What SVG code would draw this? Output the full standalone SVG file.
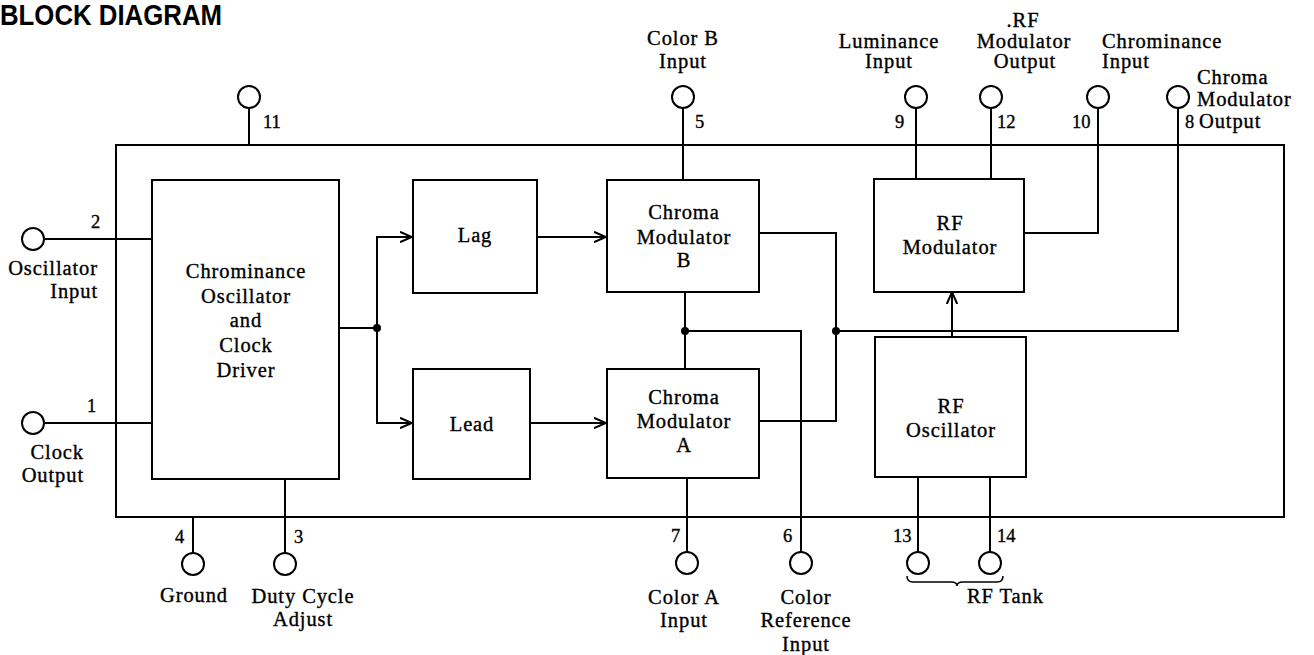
<svg xmlns="http://www.w3.org/2000/svg" width="1314" height="655" viewBox="0 0 1314 655">
<defs>
<style>
.ln{fill:none;stroke:#000;stroke-width:2}
.bx{fill:#fff;stroke:#000;stroke-width:2}
.pin{fill:#fff;stroke:#000;stroke-width:2}
.t{font-family:"Liberation Serif","Times New Roman",serif;font-size:20.5px;letter-spacing:0.9px;fill:#000;stroke:#000;stroke-width:0.35px}
.c{text-anchor:middle}
.e{text-anchor:end}
.n{font-family:"Liberation Serif","Times New Roman",serif;font-size:18.5px;fill:#000;stroke:#000;stroke-width:0.35px}
.dot{fill:#000}
</style>
<marker id="arr" viewBox="0 0 12 12" refX="12" refY="6" markerWidth="12" markerHeight="12" orient="auto" markerUnits="userSpaceOnUse">
<path d="M0,0.8 L12,6 L0,11.2" fill="none" stroke="#000" stroke-width="2"/>
</marker>
</defs>
<rect width="1314" height="655" fill="#fff"/>
<text x="0" y="25" font-family="Liberation Sans, Arial, sans-serif" font-weight="bold" font-size="29" textLength="222" lengthAdjust="spacingAndGlyphs">BLOCK DIAGRAM</text>

<g id="chip">
<rect class="ln" x="116" y="145" width="1168" height="372"/>
</g>

<g id="connectors">
<path class="ln" d="M249,108 V145"/>
<path class="ln" d="M44,239 H152"/>
<path class="ln" d="M44,423 H152"/>
<path class="ln" d="M193,517 V553"/>
<path class="ln" d="M285,479 V553"/>
<path class="ln" d="M683,108 V180"/>
<path class="ln" d="M687,478 V552"/>
<path class="ln" d="M918,477 V552"/>
<path class="ln" d="M990,477 V552"/>
<path class="ln" d="M916,108 V179"/>
<path class="ln" d="M991,108 V179"/>
<path class="ln" d="M1098,108 V233 H1024"/>
<path class="ln" d="M1178,108 V331 H836"/>
<path class="ln" d="M339,328 H377"/>
<path class="ln" d="M377,328 V237 H412" marker-end="url(#arr)"/>
<path class="ln" d="M377,328 V423 H412" marker-end="url(#arr)"/>
<path class="ln" d="M537,237 H606" marker-end="url(#arr)"/>
<path class="ln" d="M530,423 H606" marker-end="url(#arr)"/>
<path class="ln" d="M685,292 V369"/>
<path class="ln" d="M685,331 H801 V552"/>
<path class="ln" d="M759,233 H836 V421 H759"/>
<path class="ln" d="M952,337 V292" marker-end="url(#arr)"/>
<path d="M907,576 Q907,582 913,582 H951 Q957,582 957,586 Q957,582 963,582 H997 Q1003,582 1003,576" fill="none" stroke="#000" stroke-width="1.5"/>
<circle class="dot" cx="377" cy="328" r="4"/>
<circle class="dot" cx="685" cy="331" r="4"/>
<circle class="dot" cx="836" cy="331" r="4"/>
</g>

<g id="osc">
<rect class="bx" x="152" y="180" width="187" height="299"/>
<text class="t c" x="246" y="278">Chrominance</text>
<text class="t c" x="246" y="303">Oscillator</text>
<text class="t c" x="246" y="327">and</text>
<text class="t c" x="246" y="352">Clock</text>
<text class="t c" x="246" y="377">Driver</text>
</g>
<g id="lag">
<rect class="bx" x="413" y="180" width="124" height="113"/>
<text class="t c" x="475" y="242">Lag</text>
</g>
<g id="lead">
<rect class="bx" x="413" y="369" width="117" height="110"/>
<text class="t c" x="472" y="431">Lead</text>
</g>
<g id="modB">
<rect class="bx" x="607" y="180" width="152" height="112"/>
<text class="t c" x="684" y="219">Chroma</text>
<text class="t c" x="684" y="244">Modulator</text>
<text class="t c" x="684" y="267">B</text>
</g>
<g id="modA">
<rect class="bx" x="607" y="369" width="152" height="109"/>
<text class="t c" x="684" y="404">Chroma</text>
<text class="t c" x="684" y="428">Modulator</text>
<text class="t c" x="684" y="452">A</text>
</g>
<g id="rfmod">
<rect class="bx" x="874" y="179" width="150" height="113"/>
<text class="t c" x="950" y="230">RF</text>
<text class="t c" x="950" y="254">Modulator</text>
</g>
<g id="rfosc">
<rect class="bx" x="875" y="337" width="151" height="140"/>
<text class="t c" x="951" y="413">RF</text>
<text class="t c" x="951" y="437">Oscillator</text>
</g>

<g id="pin11"><circle class="pin" cx="249" cy="97" r="11"/><text class="n" x="263" y="128">11</text></g>
<g id="pin2"><circle class="pin" cx="33" cy="239" r="11"/><text class="n" x="91" y="228">2</text>
<text class="t e" x="98" y="275">Oscillator</text><text class="t e" x="98" y="298">Input</text></g>
<g id="pin1"><circle class="pin" cx="33" cy="423" r="11"/><text class="n" x="87" y="412">1</text>
<text class="t e" x="84" y="459">Clock</text><text class="t e" x="84" y="482">Output</text></g>
<g id="pin4"><circle class="pin" cx="193" cy="564" r="11"/><text class="n" x="175" y="543">4</text>
<text class="t c" x="194" y="602">Ground</text></g>
<g id="pin3"><circle class="pin" cx="285" cy="564" r="11"/><text class="n" x="294" y="543">3</text>
<text class="t c" x="303" y="603">Duty Cycle</text><text class="t c" x="303" y="626">Adjust</text></g>
<g id="pin7"><circle class="pin" cx="687" cy="563" r="11"/><text class="n" x="671" y="542">7</text>
<text class="t c" x="684" y="604">Color A</text><text class="t c" x="684" y="627">Input</text></g>
<g id="pin6"><circle class="pin" cx="801" cy="563" r="11"/><text class="n" x="783" y="542">6</text>
<text class="t c" x="806" y="604">Color</text><text class="t c" x="806" y="627">Reference</text><text class="t c" x="806" y="651">Input</text></g>
<g id="pin13"><circle class="pin" cx="918" cy="563" r="11"/><text class="n" x="893" y="542">13</text></g>
<g id="pin14"><circle class="pin" cx="990" cy="563" r="11"/><text class="n" x="997" y="542">14</text>
<text class="t" x="967" y="603">RF Tank</text></g>
<g id="pin5"><circle class="pin" cx="683" cy="97" r="11"/><text class="n" x="695" y="128">5</text>
<text class="t c" x="683" y="45">Color B</text><text class="t c" x="683" y="68">Input</text></g>
<g id="pin9"><circle class="pin" cx="916" cy="97" r="11"/><text class="n" x="895" y="128">9</text>
<text class="t c" x="889" y="48">Luminance</text><text class="t c" x="889" y="68">Input</text></g>
<g id="pin12"><circle class="pin" cx="991" cy="97" r="11"/><text class="n" x="997" y="128">12</text>
<text class="t c" x="1023" y="27">.RF</text><text class="t c" x="1024" y="48">Modulator</text><text class="t c" x="1025" y="68">Output</text></g>
<g id="pin10"><circle class="pin" cx="1098" cy="97" r="11"/><text class="n" x="1072" y="128">10</text>
<text class="t" x="1102" y="48">Chrominance</text><text class="t" x="1102" y="68">Input</text></g>
<g id="pin8"><circle class="pin" cx="1178" cy="97" r="11"/><text class="n" x="1185" y="128">8</text>
<text class="t" x="1197" y="84">Chroma</text><text class="t" x="1197" y="106">Modulator</text><text class="t" x="1199" y="128">Output</text></g>
</svg>
